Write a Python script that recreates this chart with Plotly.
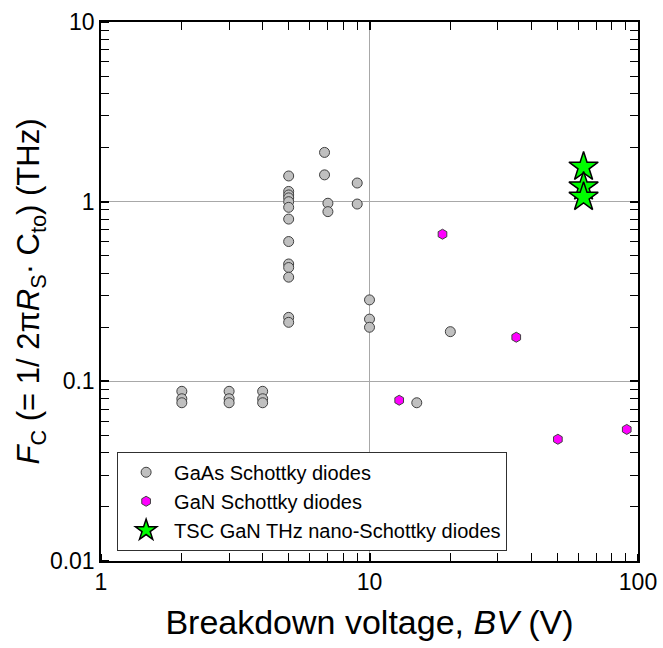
import plotly.graph_objects as go

# GaAs Schottky diodes
gaas_bv = [2, 2, 2, 3, 3, 3, 4, 4, 4,
           5, 5, 5, 5, 5, 5, 5, 5, 5, 5, 5, 5, 5,
           6.8, 6.8, 7.0, 7.0, 9.0, 9.0,
           10, 10, 10, 20, 15]
gaas_fc = [0.088, 0.080, 0.076, 0.088, 0.080, 0.076, 0.088, 0.080, 0.076,
           1.39, 1.14, 1.09, 1.05, 1.0, 0.93, 0.80, 0.60, 0.45, 0.43, 0.38, 0.227, 0.213,
           1.88, 1.41, 0.98, 0.88, 1.27, 0.97,
           0.284, 0.222, 0.20, 0.189, 0.076]

# GaN Schottky diodes
gan_bv = [12.9, 18.7, 35.2, 50.3, 90.8]
gan_fc = [0.0785, 0.659, 0.176, 0.0476, 0.054]

# TSC GaN THz nano-Schottky diodes
tsc_bv = [62.7, 62.7, 62.7]
tsc_fc = [1.56, 1.21, 1.06]

# tick positions
x_major = [1, 10, 100]
x_minor = [2, 3, 4, 5, 6, 7, 8, 9, 20, 30, 40, 50, 60, 70, 80, 90]
y_major = [0.01, 0.1, 1, 10]
y_minor = [0.02, 0.03, 0.04, 0.05, 0.06, 0.07, 0.08, 0.09,
           0.2, 0.3, 0.4, 0.5, 0.6, 0.7, 0.8, 0.9,
           2, 3, 4, 5, 6, 7, 8, 9]

FONT = "Arial, Liberation Sans, sans-serif"
X_RANGE = [0, 2]
Y_RANGE = [-2, 1]
W, H = 663, 648
ML, MR, MT, MB = 101, 25, 22, 87
PW, PH = W - ML - MR, H - MT - MB
MAJ_LEN, MIN_LEN = 8, 4

fig = go.Figure()
fig.add_trace(go.Scatter(
    x=gaas_bv, y=gaas_fc, mode="markers", name="GaAs Schottky diodes",
    marker=dict(symbol="circle", size=10, color="#c0c0c0",
                line=dict(color="#404040", width=1))))
fig.add_trace(go.Scatter(
    x=gan_bv, y=gan_fc, mode="markers", name="GaN Schottky diodes",
    marker=dict(symbol="hexagon", size=10, color="#ff00ff",
                line=dict(color="#404040", width=1))))
fig.add_trace(go.Scatter(
    x=tsc_bv, y=tsc_fc, mode="markers", name="TSC GaN THz nano-Schottky diodes",
    marker=dict(symbol="star", size=22, color="#00ff00",
                line=dict(color="black", width=1.5))))
# invisible helpers so the tick-only overlay axes are built
for xa, ya in [("x2", "y"), ("x3", "y"), ("x", "y2"), ("x", "y3")]:
    fig.add_trace(go.Scatter(x=[10], y=[1], xaxis=xa, yaxis=ya, mode="markers",
                             marker=dict(opacity=0), showlegend=False, hoverinfo="skip"))

main_common = dict(
    type="log", showline=True, linecolor="black", linewidth=1.5, mirror="allticks",
    ticks="inside", ticklen=MAJ_LEN, tickwidth=1.5, tickcolor="black",
    tickmode="linear", dtick=1,
    showgrid=True, gridcolor="#a8a8a8", gridwidth=1, zeroline=False,
    tickfont=dict(family=FONT, size=23, color="black"),
    minor=dict(ticks="inside", ticklen=MIN_LEN, tickwidth=1, tickcolor="black",
               showgrid=False),
)
tick_only = dict(
    type="log", showline=False, showgrid=False, zeroline=False,
    showticklabels=False, ticks="outside", tickcolor="black",
    tickmode="array", anchor="free", automargin=False,
)

fig.update_layout(
    xaxis=dict(**main_common, range=X_RANGE,
               title=dict(text="Breakdown voltage, <i>BV</i> (V)",
                          font=dict(family=FONT, size=34, color="black"), standoff=16)),
    yaxis=dict(**main_common, range=Y_RANGE,
               title=dict(text="<i>F</i><sub>C</sub> (= 1/ 2π<i>R</i><sub>S</sub>· C<sub>to</sub>) (THz)",
                          font=dict(family=FONT, size=31, color="black"), standoff=1)),
    # inward ticks on the bottom and left edges
    xaxis2=dict(**tick_only, range=X_RANGE, tickvals=x_major, ticklen=MAJ_LEN, tickwidth=1.5,
                overlaying="x", side="bottom", position=MAJ_LEN / PH),
    xaxis3=dict(**tick_only, range=X_RANGE, tickvals=x_minor, ticklen=MIN_LEN, tickwidth=1,
                overlaying="x", side="bottom", position=MIN_LEN / PH),
    yaxis2=dict(**tick_only, range=Y_RANGE, tickvals=y_major, ticklen=MAJ_LEN, tickwidth=1.5,
                overlaying="y", side="left", position=MAJ_LEN / PW),
    yaxis3=dict(**tick_only, range=Y_RANGE, tickvals=y_minor, ticklen=MIN_LEN, tickwidth=1,
                overlaying="y", side="left", position=MIN_LEN / PW),
)

fig.update_layout(
    width=W, height=H,
    margin=dict(l=ML, r=MR, t=MT, b=MB, autoexpand=False),
    paper_bgcolor="white", plot_bgcolor="white",
    font=dict(family=FONT, color="black"),
    legend=dict(x=0.03, y=0.019, xanchor="left", yanchor="bottom",
                bgcolor="white", bordercolor="#303030", borderwidth=1,
                font=dict(family=FONT, size=20, color="black"),
                tracegroupgap=0, itemwidth=46),
)

fig.write_html("out.html")
